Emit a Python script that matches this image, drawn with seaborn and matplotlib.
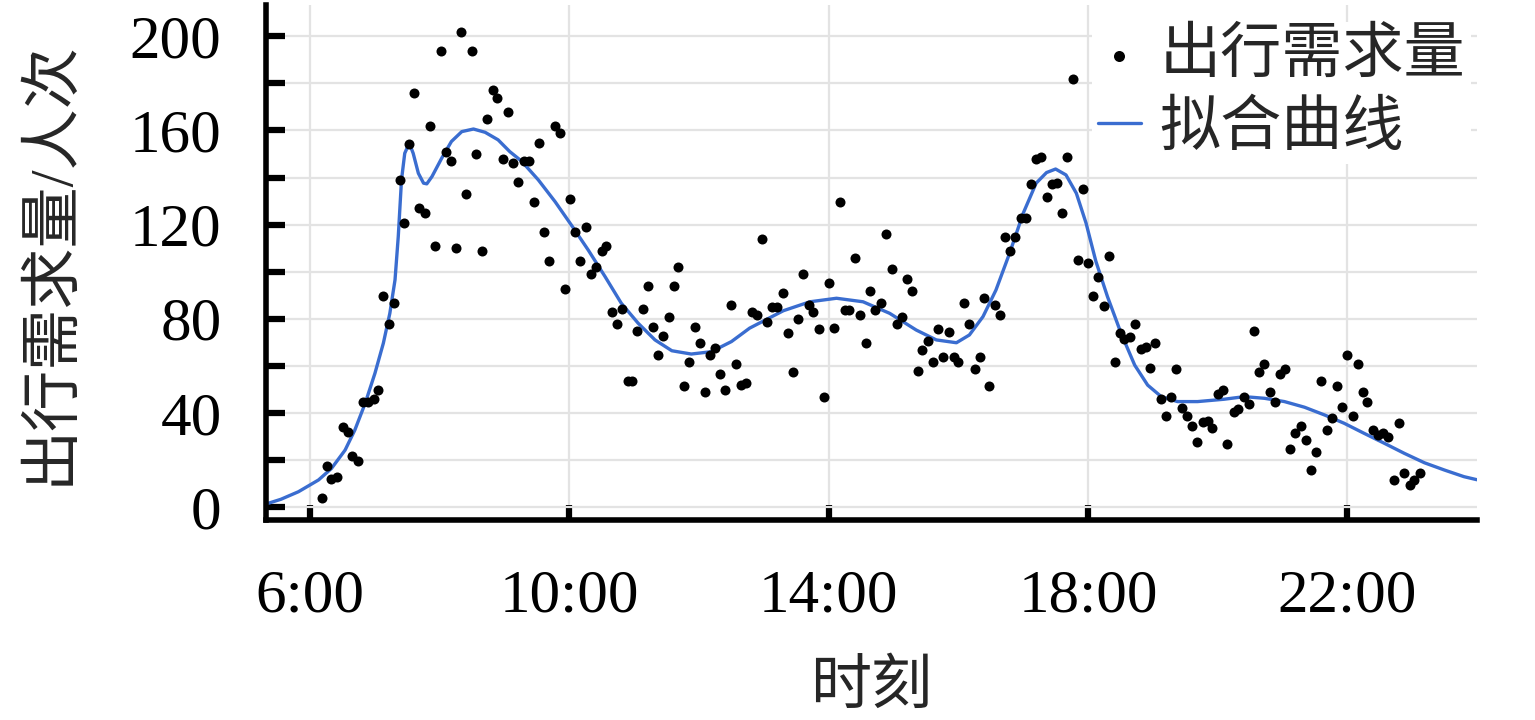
import numpy as np
import pandas as pd
import matplotlib
matplotlib.use("Agg")
import matplotlib.pyplot as plt
import seaborn as sns
from matplotlib.ticker import FixedLocator

# ---------------- data ----------------
hours = [
    6.18, 6.26, 6.33, 6.41, 6.50, 6.58, 6.65, 6.74, 6.81, 6.89,
    6.98, 7.05, 7.13, 7.21, 7.30, 7.38, 7.45, 7.53, 7.61, 7.68,
    7.77, 7.85, 7.93, 8.02, 8.10, 8.17, 8.25, 8.33, 8.41, 8.49,
    8.56, 8.65, 8.73, 8.82, 8.89, 8.97, 9.05, 9.13, 9.21, 9.30,
    9.38, 9.45, 9.53, 9.61, 9.68, 9.78, 9.85, 9.93, 10.01, 10.09,
    10.17, 10.25, 10.33, 10.41, 10.50, 10.57, 10.65, 10.73, 10.81, 10.90,
    10.97, 11.05, 11.13, 11.21, 11.29, 11.37, 11.45, 11.53, 11.61, 11.68,
    11.77, 11.85, 11.93, 12.01, 12.09, 12.17, 12.25, 12.32, 12.40, 12.49,
    12.57, 12.64, 12.73, 12.81, 12.89, 12.97, 13.05, 13.13, 13.21, 13.29,
    13.37, 13.45, 13.53, 13.61, 13.69, 13.76, 13.85, 13.93, 14.00, 14.08,
    14.17, 14.25, 14.32, 14.41, 14.48, 14.57, 14.64, 14.72, 14.81, 14.89,
    14.97, 15.05, 15.13, 15.21, 15.29, 15.37, 15.44, 15.53, 15.61, 15.69,
    15.77, 15.85, 15.93, 16.00, 16.08, 16.16, 16.25, 16.33, 16.40, 16.48,
    16.56, 16.64, 16.72, 16.80, 16.88, 16.96, 17.04, 17.12, 17.20, 17.28,
    17.36, 17.44, 17.52, 17.60, 17.68, 17.77, 17.84, 17.92, 18.00, 18.07,
    18.15, 18.24, 18.32, 18.41, 18.49, 18.56, 18.65, 18.73, 18.81, 18.89,
    18.96, 19.04, 19.13, 19.21, 19.28, 19.36, 19.45, 19.52, 19.60, 19.68,
    19.77, 19.85, 19.92, 20.00, 20.08, 20.15, 20.25, 20.32, 20.40, 20.48,
    20.56, 20.64, 20.72, 20.81, 20.89, 20.96, 21.04, 21.12, 21.20, 21.28,
    21.36, 21.44, 21.52, 21.60, 21.68, 21.76, 21.84, 21.92, 22.00, 22.08,
    22.16, 22.24, 22.31, 22.40, 22.48, 22.55, 22.63, 22.72, 22.80, 22.88,
    22.96, 23.03, 23.12,
]
demand = [
    3.7, 17.6, 11.8, 12.6, 33.9, 31.7, 21.8, 19.7, 44.8, 44.8,
    45.8, 49.7, 89.7, 77.9, 86.8, 139.0, 120.8, 154.3, 176.1, 126.9,
    125.1, 161.9, 110.9, 193.9, 151.0, 146.8, 109.9, 201.9, 132.9, 193.9,
    150.0, 108.9, 165.0, 177.2, 173.9, 147.9, 168.0, 146.1, 138.1, 146.8,
    146.8, 129.7, 154.8, 116.9, 104.7, 161.9, 158.8, 92.8, 130.8, 116.9,
    104.7, 118.9, 98.9, 101.9, 108.8, 110.9, 82.7, 77.8, 84.0, 53.7,
    53.7, 74.8, 84.0, 93.9, 76.6, 64.6, 72.7, 80.7, 93.9, 101.9,
    51.6, 61.6, 76.6, 69.8, 48.7, 64.6, 67.7, 56.7, 49.7, 85.8,
    60.8, 51.7, 52.6, 82.7, 81.6, 113.8, 78.8, 84.9, 84.9, 90.8,
    73.8, 57.5, 79.9, 98.9, 85.8, 82.7, 75.6, 46.6, 95.1, 75.9,
    129.7, 83.7, 83.7, 105.9, 81.6, 69.8, 91.8, 83.7, 86.8, 115.9,
    101.0, 77.8, 80.9, 96.9, 91.8, 57.7, 66.7, 70.7, 61.6, 75.8,
    63.6, 74.5, 63.6, 61.6, 86.8, 77.8, 58.8, 63.6, 88.8, 51.4,
    85.8, 81.6, 114.9, 108.8, 114.9, 122.8, 122.8, 137.1, 147.9, 148.6,
    131.9, 137.1, 137.8, 124.8, 148.9, 181.9, 105.0, 135.0, 103.8, 89.7,
    97.9, 85.5, 106.8, 61.8, 73.8, 71.3, 72.1, 77.8, 67.0, 67.9,
    58.9, 69.8, 45.8, 38.7, 46.6, 58.6, 41.9, 38.7, 34.6, 27.8,
    36.0, 36.7, 33.7, 47.9, 49.7, 26.6, 40.5, 41.6, 46.9, 43.8,
    74.8, 57.5, 60.8, 48.7, 44.5, 56.5, 58.6, 24.6, 31.6, 34.6,
    28.5, 15.7, 23.5, 53.7, 32.6, 37.7, 51.6, 42.6, 64.6, 38.8,
    60.8, 48.7, 44.5, 32.6, 30.5, 31.6, 29.6, 11.5, 35.7, 14.6,
    9.3, 11.5, 14.6,
]

fit_hours = [
    5.31, 5.55, 5.82, 6.13, 6.33, 6.54, 6.69, 6.85, 7.00, 7.13,
    7.23, 7.31, 7.36, 7.41, 7.46, 7.53, 7.59, 7.67, 7.75, 7.80,
    7.88, 8.03, 8.18, 8.34, 8.52, 8.70, 8.90, 9.08, 9.26, 9.52,
    9.78, 10.03, 10.29, 10.55, 10.80, 11.06, 11.32, 11.58, 11.88, 12.19,
    12.50, 12.78, 13.30, 13.71, 14.12, 14.53, 14.94, 15.35, 15.66, 15.97,
    16.17, 16.38, 16.58, 16.79, 17.00, 17.20, 17.36, 17.50, 17.66, 17.82,
    17.97, 18.12, 18.30, 18.51, 18.72, 18.92, 19.13, 19.38, 19.69, 20.10,
    20.41, 20.72, 21.03, 21.34, 21.65, 21.95, 22.26, 22.57, 22.88, 23.19,
    23.50, 23.80, 24.00,
]
fit_values = [
    1.2, 3.3, 6.5, 11.5, 16.4, 24.2, 32.7, 44.1, 56.8, 69.6,
    82.3, 96.5, 114.9, 139.0, 150.3, 154.6, 150.3, 141.8, 137.6, 137.3,
    140.4, 148.2, 155.3, 159.5, 160.6, 159.2, 156.0, 151.0, 147.0, 139.0,
    129.7, 119.8, 109.2, 97.9, 86.6, 78.1, 71.0, 66.4, 65.0, 66.0,
    70.3, 76.0, 83.4, 87.2, 88.7, 87.2, 82.3, 75.2, 71.0, 69.8,
    73.1, 80.9, 92.2, 107.8, 124.8, 137.6, 142.1, 143.6, 141.1, 133.3,
    120.6, 104.5, 89.4, 73.8, 60.3, 51.8, 46.9, 44.8, 44.8, 45.8,
    46.9, 46.2, 44.8, 42.4, 39.1, 35.6, 31.3, 27.1, 22.8, 18.8,
    15.7, 12.9, 11.6,
]

x_ticks = [6, 10, 14, 18, 22]
x_tick_labels = ["6:00", "10:00", "14:00", "18:00", "22:00"]
y_ticks = [0, 40, 80, 120, 160, 200]
y_minor_ticks = [20, 60, 100, 140, 180]

label_points = "出行需求量"
label_fit = "拟合曲线"
x_label = "时刻"
y_label = "出行需求量/人次"

# ---------------- style ----------------
sns.set_style("white")
plt.rcParams["font.family"] = ["Liberation Serif", "Noto Sans CJK SC"]
plt.rcParams["axes.unicode_minus"] = False

BLUE = "#3a6dd0"
GRID = "#e3e3e3"
FS = 44

fig = plt.figure(figsize=(15.35, 7.2), dpi=100)
ax = fig.add_axes([0.1733, 0.2778, 0.7889, 0.7153])

fit_df = pd.DataFrame({"hour": fit_hours, "value": fit_values})
pts_df = pd.DataFrame({"hour": hours, "value": demand})

sns.lineplot(data=fit_df, x="hour", y="value", ax=ax, color=BLUE, lw=2.4,
             label=label_fit, estimator=None, sort=True, zorder=2)
sns.scatterplot(data=pts_df, x="hour", y="value", ax=ax, color="black",
                s=52, linewidth=0, label=label_points, zorder=3)

ax.set_xlim(5.32, 24.0)
ax.set_ylim(-5.5, 213.3)

ax.xaxis.set_major_locator(FixedLocator(x_ticks))
ax.set_xticklabels(x_tick_labels)
ax.yaxis.set_major_locator(FixedLocator(y_ticks))
ax.yaxis.set_minor_locator(FixedLocator(y_minor_ticks))
ax.set_yticklabels([str(v) for v in y_ticks])

ax.set_axisbelow(True)
ax.yaxis.grid(True, which="both", color=GRID, lw=1.6)
ax.xaxis.grid(True, which="major", color=GRID, lw=1.6)

for side in ["top", "right"]:
    ax.spines[side].set_visible(False)
for side in ["left", "bottom"]:
    ax.spines[side].set_color("black")
    ax.spines[side].set_linewidth(4.0)

ax.tick_params(axis="y", which="both", left=True, direction="in", length=14,
               width=4.5, pad=32, labelsize=FS, colors="black")
ax.tick_params(axis="x", which="major", bottom=True, direction="in", length=11,
               width=4.5, pad=35, labelsize=FS, colors="black")

ax.set_xlabel(x_label, fontsize=FS, labelpad=27)
ax.set_ylabel(y_label, fontsize=FS, labelpad=36)

handles, labels = ax.get_legend_handles_labels()
order = [labels.index(label_points), labels.index(label_fit)]
leg = ax.legend([handles[i] for i in order], [labels[i] for i in order],
                loc="upper right", bbox_to_anchor=(1.0, 0.978), frameon=True,
                facecolor="white", edgecolor="none", framealpha=1,
                fancybox=False, fontsize=FS, handlelength=0.7,
                handletextpad=0.3, borderpad=0.1, labelspacing=0.27,
                markerscale=1.1, borderaxespad=0.1)

fig.savefig("out.png", dpi=100)
